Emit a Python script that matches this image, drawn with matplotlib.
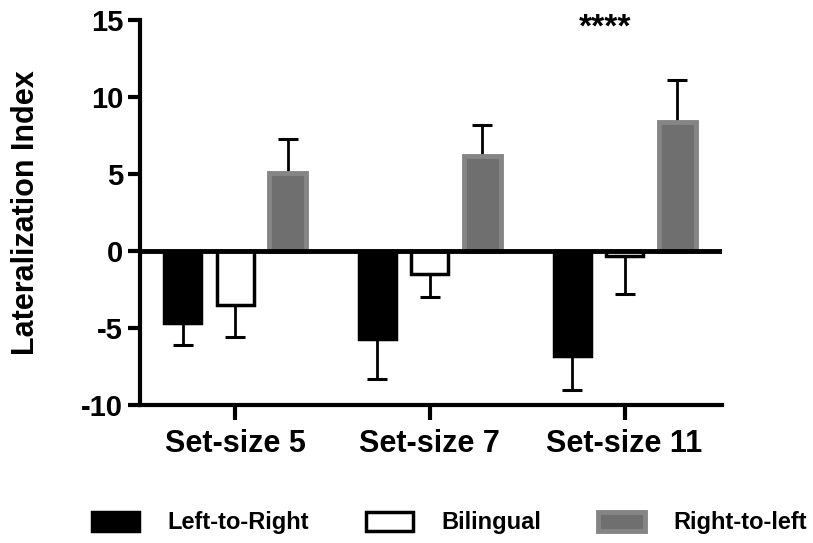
import numpy as np
import matplotlib.pyplot as plt

plt.rcParams['font.family'] = ['Liberation Sans', 'DejaVu Sans']
plt.rcParams['font.weight'] = 'bold'
plt.rcParams['axes.unicode_minus'] = False

groups = ["Set-size 5", "Set-size 7", "Set-size 11"]
series = ["Left-to-Right", "Bilingual", "Right-to-left"]
ltr = [-4.7, -5.7, -6.8]
ltr_err = [1.4, 2.6, 2.2]
bil = [-3.5, -1.5, -0.3]
bil_err = [2.1, 1.5, 2.5]
rtl = [5.1, 6.2, 8.4]
rtl_err = [2.2, 2.0, 2.7]

fig = plt.figure(figsize=(8.13, 5.43), dpi=100)
ax = fig.add_axes([0.172, 0.254, 0.716, 0.709])

x = np.arange(len(groups))
w = 0.19
off = 0.27

styles = [
    dict(color="black", edgecolor="black", linewidth=2.5),
    dict(color="white", edgecolor="black", linewidth=2.5),
    dict(color="#6f6f6f", edgecolor="#858585", linewidth=3.5),
]
vals = [ltr, bil, rtl]
errs = [ltr_err, bil_err, rtl_err]

for i, (v, e, st) in enumerate(zip(vals, errs, styles)):
    pos = x + (i - 1) * off
    ax.bar(pos, v, w, label=series[i], zorder=2, **st)
    # one-sided error bars, away from zero
    v = np.array(v)
    e = np.array(e)
    lower = np.where(v < 0, e, 0)
    upper = np.where(v >= 0, e, 0)
    ax.errorbar(pos, v, yerr=[lower, upper], fmt="none", ecolor="black",
                elinewidth=2, capsize=7, capthick=2.2, zorder=1)

ax.axhline(0, color="black", lw=3.5, zorder=3)

ax.set_xlim(-0.49, 2.50)
ax.set_ylim(-10, 15)
ax.set_yticks([-10, -5, 0, 5, 10, 15])
ax.set_xticks(x)
ax.set_xticklabels(groups, fontsize=22, fontweight="bold")
ax.tick_params(axis="y", labelsize=21, length=9, width=3, pad=3)
ax.tick_params(axis="x", length=11, width=3, pad=6)

for s in ["top", "right"]:
    ax.spines[s].set_visible(False)
for s in ["left", "bottom"]:
    ax.spines[s].set_linewidth(3)

ax.set_ylabel("Lateralization Index", fontsize=22, fontweight="bold")
ax.yaxis.set_label_coords(-0.17, 0.5)

ax.text(1.90, 14.5, "****", fontsize=24, fontweight="bold",
        ha="center", va="center")

fig.legend(loc="center", bbox_to_anchor=(0.553, 0.037), ncol=3,
           frameon=False, fontsize=17, handlelength=2.0, handleheight=0.85,
           handletextpad=1.2, columnspacing=2.4)

fig.savefig("out.png", dpi=100)
